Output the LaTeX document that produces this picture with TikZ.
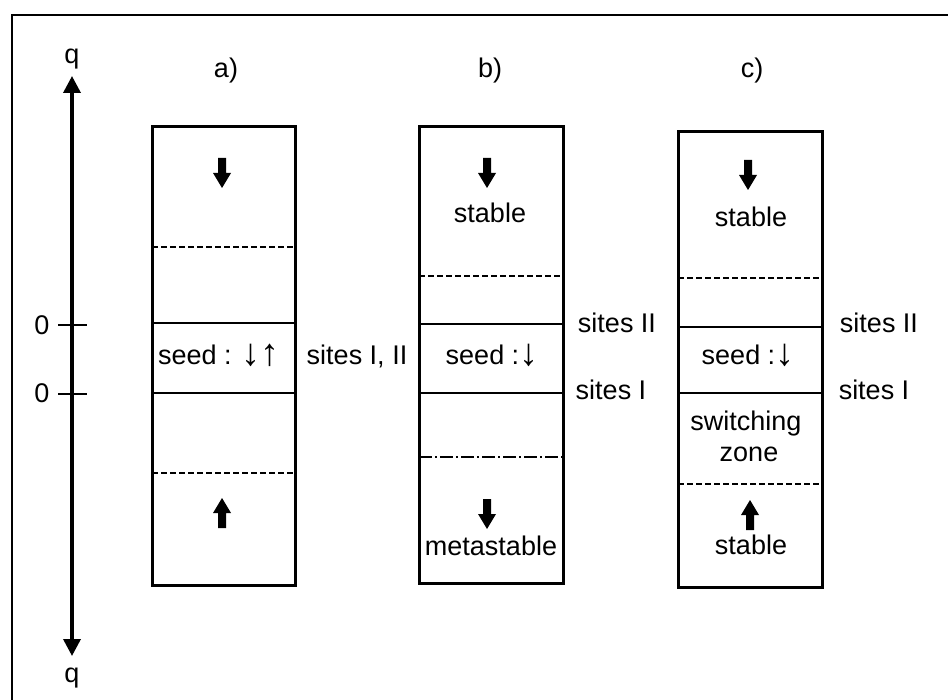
\documentclass[tikz,border=0pt]{standalone}
\usepackage{fontspec}
\setmainfont{Liberation Sans}
\usetikzlibrary{arrows.meta}
\newcommand{\bigdn}{{\fontsize{38}{38}\selectfont\raisebox{-1pt}{↓}}}
\newcommand{\bigup}{{\fontsize{38}{38}\selectfont\raisebox{-1pt}{↑}}}
\begin{document}
\begin{tikzpicture}[x=1pt,y=-1pt,
  lbl/.style={font=\fontsize{27}{31}\selectfont, inner sep=0pt, anchor=base},
  frameline/.style={line width=2pt},
  boxline/.style={line width=3pt},
  solidsep/.style={line width=1.4pt},
  dashsep/.style={line width=1.5pt, dash pattern=on 6pt off 3pt},
  dashdotsep/.style={line width=1.5pt, dash pattern=on 13pt off 3pt on 2pt off 3pt},
  axisline/.style={line width=3.5pt, {Triangle[width=17pt,length=17pt]}-{Triangle[width=17pt,length=17pt]}},
  tickline/.style={line width=1.4pt},
  dnarr/.pic={\fill (-4,0)--(4,0)--(4,15)--(9,15)--(0,30)--(-9,15)--(-4,15)--cycle;},
  uparr/.pic={\fill (-4,30)--(4,30)--(4,15)--(9,15)--(0,0)--(-9,15)--(-4,15)--cycle;}
]
\useasboundingbox (0,0) rectangle (948,700);
% outer frame
\draw[frameline] (12,710) -- (12,15) -- (960,15);

% axis
\coordinate (axtop) at (72,76);
\coordinate (axbot) at (72,656);
\draw[axisline] (axbot) -- (axtop);
\node[lbl] (qtop) at (72,64) {q};
\node[lbl] (qbot) at (72,682) {q};
\coordinate (t1l) at (58,325); \coordinate (t1r) at (87,325);
\coordinate (t2l) at (58,394); \coordinate (t2r) at (87,394);
\draw[tickline] (t1l) -- (t1r);
\draw[tickline] (t2l) -- (t2r);
\node[lbl] (zero1) at (42,335) {0};
\node[lbl] (zero2) at (42,403) {0};

% panel labels
\node[lbl] (la) at (226,78) {a)};
\node[lbl] (lb) at (490,78) {b)};
\node[lbl] (lc) at (752,78) {c)};

% box a
\draw[dashsep] (152,247) -- (295,247);
\draw[solidsep] (152,323) -- (295,323);
\draw[solidsep] (152,393) -- (295,393);
\draw[dashsep] (152,473) -- (295,473);
\draw[boxline] (152,127) rectangle (295,585);
\pic at (222,158) {dnarr};
\pic at (222,498) {uparr};
\node[lbl] (seeda) at (219,365) {seed : \bigdn\bigup};
\node[lbl] (sitesa) at (357,365) {sites I, II};

% box b
\draw[dashsep] (419,276) -- (563,276);
\draw[solidsep] (419,324) -- (563,324);
\draw[solidsep] (419,393) -- (563,393);
\draw[dashdotsep] (419,457) -- (563,457);
\draw[boxline] (419,127) rectangle (563,583);
\pic at (487,158) {dnarr};
\node[lbl] (stbb) at (490,223) {stable};
\pic at (487,499) {dnarr};
\node[lbl] (metab) at (491,555) {metastable};
\node[lbl] (seedb) at (492,365) {seed :\bigdn};
\node[lbl] (sitesIIb) at (617,333) {sites II};
\node[lbl] (sitesIb) at (611,400) {sites I};

% box c
\draw[dashsep] (678,278) -- (822,278);
\draw[solidsep] (678,327) -- (822,327);
\draw[solidsep] (678,393) -- (822,393);
\draw[dashsep] (678,484) -- (822,484);
\draw[boxline] (678,132) rectangle (822,587);
\pic at (748,160) {dnarr};
\node[lbl] (stbc) at (751,227) {stable};
\node[lbl] (seedc) at (748,365) {seed :\bigdn};
\node[lbl] (swc) at (746,431) {switching};
\node[lbl] (zonec) at (749,461) {zone};
\pic at (750,500) {uparr};
\node[lbl] (stbc2) at (751,554) {stable};
\node[lbl] (sitesIIc) at (879,333) {sites II};
\node[lbl] (sitesIc) at (874,400) {sites I};
\end{tikzpicture}
\end{document}
